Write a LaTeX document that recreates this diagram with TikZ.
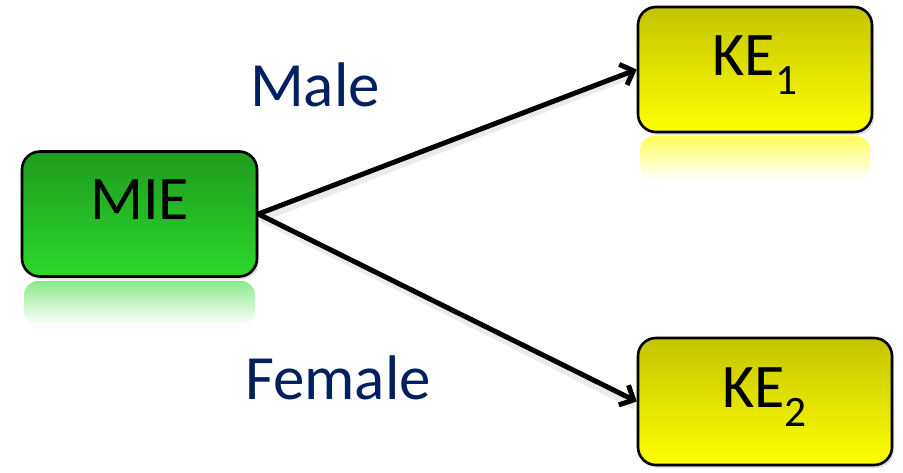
\documentclass[tikz,border=0pt]{standalone}
\usepackage{fontspec}
\setmainfont{Carlito}
\usetikzlibrary{arrows.meta,shadows,fadings}
\definecolor{mieTop}{HTML}{1F9C1F}
\definecolor{mieBot}{HTML}{2BD82B}
\definecolor{keTop}{HTML}{C4C400}
\definecolor{keBot}{HTML}{FFFF00}
\definecolor{labelBlue}{HTML}{002060}
\tikzset{
  box/.style={draw=black, line width=2.6pt, rounded corners=18pt,
    text height=41pt, text depth=30pt, inner sep=0pt,
    font=\fontsize{62}{62}\selectfont,
    drop shadow={opacity=0.25, shadow xshift=2pt, shadow yshift=-3pt}},
  miebox/.style={box, top color=mieTop, bottom color=mieBot},
  kebox/.style={box, top color=keTop, bottom color=keBot},
  reflect/.style={draw=none, rounded corners=14pt},
  flow/.style={line width=5pt, -{Straight Barb[length=11pt,width=22pt]}},
  flowshadow/.style={line width=6pt, draw=black, opacity=0.08},
  branch/.style={text=labelBlue, font=\fontsize{63}{63}\selectfont}
}
\begin{document}
\begin{tikzpicture}[x=1pt,y=-1pt]
  \useasboundingbox (0,0) rectangle (903,472);

  % mirrored reflections under the boxes
  \shade[reflect, top color=mieBot!55, bottom color=white] (24,281) rectangle (255,325);
  \shade[reflect, top color=keBot!65, bottom color=white] (640,136) rectangle (870,180);

  % boxes
  \node[miebox, minimum width=235pt, minimum height=125pt] (mie) at (139.5,214) {MIE};
  \node[kebox, minimum width=234pt, minimum height=125pt] (ke1) at (755,69.5) {KE\textsubscript{1}};
  \node[kebox, minimum width=254pt, minimum height=127pt] (ke2) at (765,401.5) {KE\textsubscript{2}};

  % soft shadows of the connectors
  \draw[flowshadow] ([xshift=3pt,yshift=-5pt]mie.east) -- ([xshift=-2pt,yshift=-5pt]ke1.west);
  \draw[flowshadow] ([xshift=3pt,yshift=-5pt]mie.east) -- ([xshift=-2pt,yshift=-5pt]ke2.west);

  % connectors
  \draw[flow] (mie.east) -- (ke1.west);
  \draw[flow] (mie.east) -- (ke2.west);

  % branch labels
  \node[branch] (male) at (315,85) {Male};
  \node[branch] (female) at (338,378) {Female};
\end{tikzpicture}
\end{document}
